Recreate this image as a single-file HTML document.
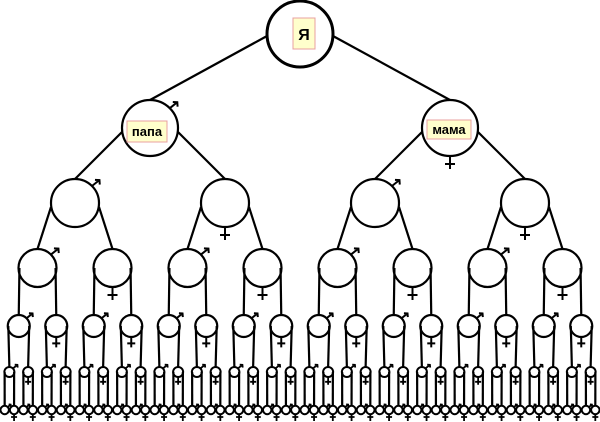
<!DOCTYPE html>
<html><head><meta charset="utf-8"><style>
html,body{margin:0;padding:0;background:#fff;width:600px;height:422px;overflow:hidden}
svg{display:block}
.lbl{font-family:"Liberation Sans",sans-serif;font-weight:bold;font-size:13px;fill:#000}
</style></head><body>
<svg id="s" width="600" height="422" viewBox="0 0 600 422" xmlns="http://www.w3.org/2000/svg">
<g id="g" fill="none" stroke="#000" stroke-linecap="butt"></g>
<rect x="293" y="18" width="22" height="31" fill="#ffffcc" stroke="#e8a0a0" stroke-width="1"/>
<text x="304" y="40" class="lbl" text-anchor="middle" style="font-size:16px">Я</text>
<rect x="127" y="121" width="40" height="21" fill="#ffffcc" stroke="#e8a0a0" stroke-width="1"/>
<text x="147" y="136" class="lbl" text-anchor="middle">папа</text>
<rect x="427" y="120" width="44" height="19" fill="#ffffcc" stroke="#e8a0a0" stroke-width="1"/>
<text x="449" y="134" class="lbl" text-anchor="middle">мама</text>
</svg>
<script>
var g=document.getElementById('g');
var ys=[34,128,203,268,326,372,410], rs=[33,28,24,19,11,5,4.2];
var sw=[3,2.2,2.2,2.2,2.2,2,2];
var sl=[0,10,10,10,8,6,4];
var out='';
function xs(l,i){var n=Math.pow(2,l);return 600/n*(i+0.5);}
for(var l=0;l<7;l++){
 var n=Math.pow(2,l);
 for(var i=0;i<n;i++){
  var cx=xs(l,i),cy=ys[l],r=rs[l];
  if(l==1)cx=(i==0?150:450);
  out+='<circle cx="'+cx+'" cy="'+cy+'" r="'+r+'" stroke-width="'+sw[l]+'"/>';
  if(l<6){
   for(var k=0;k<2;k++){
    var ccx=xs(l+1,2*i+k); if(l+1==1)ccx=(k==0?150:450);
    var px=cx+(k==0?-r:r), py=cy+(l==0?2:(l<3?4:0));
    if(l>=3){px=cx+(k==0?-r*0.95:r*0.95);py=cy;}
    out+='<line x1="'+px+'" y1="'+py+'" x2="'+ccx+'" y2="'+(ys[l+1]-rs[l+1])+'" stroke-width="2.2"/>';
   }
  }
  if(l>0){
   var L=sl[l], w=Math.max(1.6,sw[l]*0.9);
   if(i%2==0){
    var a=r*0.707, x1=cx+a, y1=cy-a, x2=x1+L*0.75, y2=y1-L*0.6;
    var h=Math.max(2,L*0.45);
    out+='<path d="M'+x1+' '+y1+'L'+x2+' '+y2+'M'+(x2-h)+' '+(y2-0.2)+'L'+x2+' '+y2+'L'+(x2+0.3)+' '+(y2+h)+'" stroke-width="'+w+'"/>';
   } else {
    var yb=cy+r, ye=yb+L*1.3, yc=yb+L*0.8, hw=L*0.5;
    if(l==6){ye=421;yc=417;hw=3;}
    out+='<path d="M'+cx+' '+yb+'L'+cx+' '+ye+'M'+(cx-hw)+' '+yc+'L'+(cx+hw)+' '+yc+'" stroke-width="'+w+'"/>';
   }
  }
 }
}
g.innerHTML=out;
</script>
</body></html>
